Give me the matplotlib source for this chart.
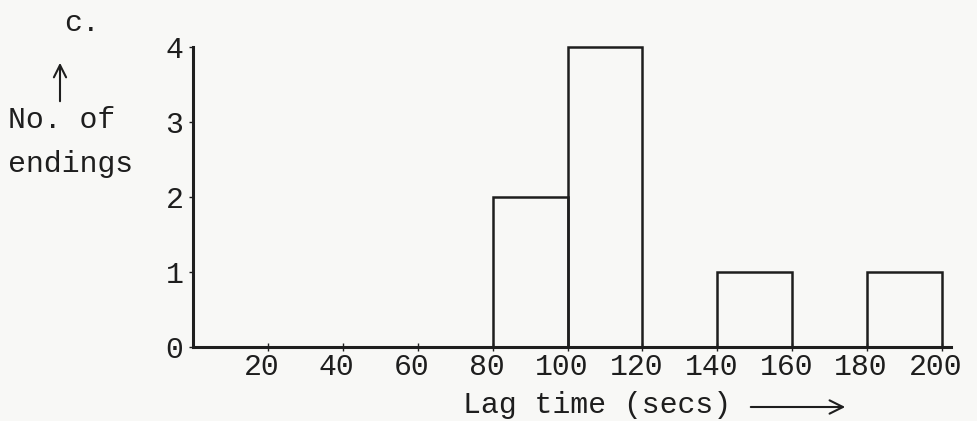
import matplotlib.pyplot as plt
from matplotlib.transforms import ScaledTranslation

# histogram of lag times (bin left edges, width 20 secs)
bin_edges = [80, 100, 140, 180]
counts = [2, 4, 1, 1]
xticks = [20, 40, 60, 80, 100, 120, 140, 160, 180, 200]
yticks = [0, 1, 2, 3, 4]

plt.rcParams['font.family'] = ['Liberation Mono', 'DejaVu Sans Mono', 'DejaVu Sans']
ink = '#1e1e1e'
W, H = 977, 421
fs = 21.5

fig = plt.figure(figsize=(9.77, 4.21), dpi=100, facecolor='#f8f8f6')
ax = fig.add_axes([193 / W, 74 / H, 749 / W, 300 / H])
ax.set_facecolor('#f8f8f6')

bars = ax.bar(bin_edges, counts, width=20, align='edge', fill=False,
              edgecolor=ink, linewidth=1.8)
for b in bars:
    b.set_clip_on(False)

ax.set_xlim(0, 200)
ax.set_ylim(0, 4)
ax.spines['top'].set_visible(False)
ax.spines['right'].set_visible(False)
ax.spines['bottom'].set_bounds(0, 202.5)
for s in ('left', 'bottom'):
    ax.spines[s].set_linewidth(2.2)
    ax.spines[s].set_color(ink)

ax.set_xticks(xticks)
ax.set_yticks(yticks)
ax.tick_params(axis='x', direction='inout', length=6, width=1, pad=1,
               labelsize=fs, colors=ink)
ax.tick_params(axis='y', length=3, width=1, pad=4, labelsize=fs, colors=ink)
for lab in ax.get_xticklabels():
    lab.set_transform(lab.get_transform() + ScaledTranslation(-6 / 100, 0, fig.dpi_scale_trans))

# x label with long arrow
fig.text(463 / W, 1 - 405 / H, 'Lag time (secs)', fontsize=fs, ha='left',
         va='center', color=ink)
ax.annotate('', xy=(848 / W, 1 - 407 / H), xytext=(748 / W, 1 - 407 / H),
            xycoords='figure fraction', textcoords='figure fraction',
            arrowprops=dict(arrowstyle='->', lw=1.5, color=ink,
                            mutation_scale=24))

# y label block
fig.text(82 / W, 1 - 23 / H, 'c.', fontsize=fs, ha='center', va='center', color=ink)
ax.annotate('', xy=(60 / W, 1 - 60 / H), xytext=(60 / W, 1 - 104 / H),
            xycoords='figure fraction', textcoords='figure fraction',
            arrowprops=dict(arrowstyle='->', lw=1.5, color=ink,
                            mutation_scale=22))
fig.text(8 / W, 1 - 120 / H, 'No. of', fontsize=fs, ha='left', va='center', color=ink)
fig.text(8 / W, 1 - 164 / H, 'endings', fontsize=fs, ha='left', va='center', color=ink)

fig.savefig('out.png', dpi=100, facecolor=fig.get_facecolor())
